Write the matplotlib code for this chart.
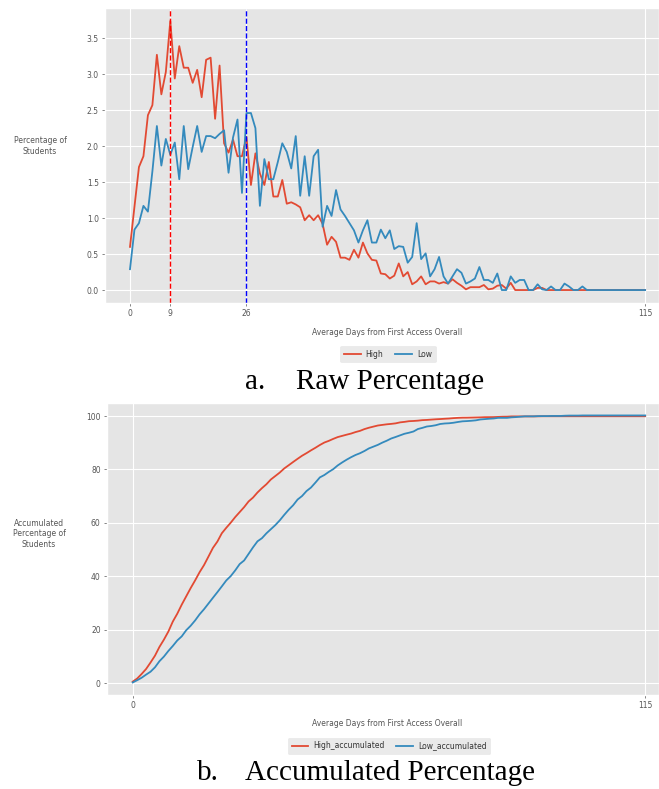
import numpy as np
import matplotlib
matplotlib.use("Agg")
import matplotlib.pyplot as plt

# ---- data ----
days = list(range(116))
high = [0.60, 1.16, 1.71, 1.86, 2.43, 2.57, 3.27, 2.72, 3.03, 3.74,
        2.94, 3.39, 3.09, 3.09, 2.88, 3.06, 2.68, 3.20, 3.23, 2.38,
        3.12, 2.04, 1.91, 2.09, 1.86, 1.86, 2.13, 1.46, 1.90, 1.62,
        1.46, 1.78, 1.30, 1.30, 1.53, 1.20, 1.22, 1.19, 1.15, 0.97,
        1.04, 0.97, 1.04, 0.92, 0.63, 0.74, 0.67, 0.45, 0.45, 0.42,
        0.56, 0.45, 0.66, 0.51, 0.42, 0.41, 0.23, 0.22, 0.16, 0.20,
        0.37, 0.19, 0.25, 0.08, 0.12, 0.19, 0.08, 0.12, 0.12, 0.09,
        0.11, 0.09, 0.15, 0.10, 0.06, 0.01, 0.04, 0.04, 0.04, 0.07,
        0.01, 0.02, 0.06, 0.07, 0.02, 0.10, 0.00, 0.00, 0.00, 0.00,
        0.00, 0.03, 0.03, 0.00, 0.00, 0.00, 0.00, 0.00, 0.00, 0.00,
        0.00, 0.00, 0.00, 0.00, 0.00, 0.00, 0.00, 0.00, 0.00, 0.00,
        0.00, 0.00, 0.00, 0.00, 0.00, 0.00]
low = [0.29, 0.84, 0.93, 1.17, 1.09, 1.65, 2.28, 1.73, 2.10, 1.88,
       2.05, 1.54, 2.28, 1.68, 1.99, 2.28, 1.92, 2.14, 2.14, 2.11,
       2.17, 2.22, 1.63, 2.12, 2.37, 1.35, 2.46, 2.46, 2.25, 1.17,
       1.82, 1.54, 1.54, 1.78, 2.04, 1.92, 1.69, 2.14, 1.31, 1.86,
       1.31, 1.86, 1.95, 0.88, 1.17, 1.03, 1.39, 1.12, 1.03, 0.93,
       0.83, 0.66, 0.83, 0.97, 0.66, 0.66, 0.84, 0.72, 0.83, 0.57,
       0.61, 0.60, 0.38, 0.46, 0.93, 0.43, 0.51, 0.19, 0.29, 0.46,
       0.19, 0.09, 0.19, 0.29, 0.24, 0.09, 0.12, 0.16, 0.32, 0.14,
       0.14, 0.10, 0.23, 0.00, 0.00, 0.19, 0.10, 0.14, 0.14, 0.00,
       0.00, 0.08, 0.01, 0.00, 0.05, 0.00, 0.00, 0.09, 0.05, 0.00,
       0.00, 0.05, 0.00, 0.00, 0.00, 0.00, 0.00, 0.00, 0.00, 0.00,
       0.00, 0.00, 0.00, 0.00, 0.00, 0.00]
high_peak_day = 9
low_peak_day = 26
xticks_a = [0, 9, 26, 115]
xticks_b = [0, 115]

high_acc = np.cumsum(high)
low_acc = np.cumsum(low)

plt.style.use("ggplot")
W, H = 659, 789
fig = plt.figure(figsize=(W / 100, H / 100), dpi=100)

FS = 5.5
GRAY = "#555555"

def fx(px):
    return px / W

def fy(py):
    return 1 - py / H

def style_axes(ax):
    ax.tick_params(axis="both", labelsize=FS, colors=GRAY, length=2.5, width=0.5, pad=2)

# ---- panel a ----
ax1 = fig.add_axes([fx(105), fy(303), fx(659) - fx(105), fy(8) - fy(303)])
ax1.plot(days, high, color="#E24A33", lw=1.3, label="High")
ax1.plot(days, low, color="#348ABD", lw=1.3, label="Low")
ax1.axvline(high_peak_day, color="red", ls="--", lw=1.0)
ax1.axvline(low_peak_day, color="blue", ls="--", lw=1.0)
ax1.set_xlim(-5.58, 118.1)
ax1.set_ylim(-0.18, 3.92)
ax1.set_xticks(xticks_a)
ax1.set_yticks(np.arange(0, 3.51, 0.5))
ax1.set_yticklabels([f"{v:.1f}" for v in np.arange(0, 3.51, 0.5)])
style_axes(ax1)
fig.text(fx(40), fy(146), "Percentage of\nStudents", ha="center", va="center",
         fontsize=FS, color=GRAY, linespacing=1.2)
fig.text(fx(387), fy(333), "Average Days from First Access Overall", ha="center",
         va="center", fontsize=FS, color=GRAY)
h1, l1 = ax1.get_legend_handles_labels()
leg1 = fig.legend(h1, l1, loc="center", bbox_to_anchor=(fx(388), fy(354)), ncol=2,
                  fontsize=FS, frameon=True, handlelength=2.2, columnspacing=1.6,
                  borderpad=0.5, handletextpad=0.6)
leg1.get_frame().set_facecolor("#E5E5E5")
leg1.get_frame().set_edgecolor("#E5E5E5")
for t in leg1.get_texts():
    t.set_color("#333333")

fig.text(fx(245), fy(382), "a.", ha="left", va="center", fontsize=21,
         family="Liberation Serif", color="black")
fig.text(fx(296), fy(382), "Raw Percentage", ha="left", va="center", fontsize=21,
         family="Liberation Serif", color="black")

# ---- panel b ----
ax2 = fig.add_axes([fx(107), fy(695), fx(659) - fx(107), fy(402.7) - fy(695)])
ax2.plot(days, high_acc, color="#E24A33", lw=1.3, label="High_accumulated")
ax2.plot(days, low_acc, color="#348ABD", lw=1.3, label="Low_accumulated")
ax2.set_xlim(-5.77, 118.1)
ax2.set_ylim(-4.4, 105.0)
ax2.set_xticks(xticks_b)
ax2.set_yticks([0, 20, 40, 60, 80, 100])
style_axes(ax2)
fig.text(fx(39), fy(534), "Accumulated\nPercentage of\nStudents", ha="center",
         va="center", fontsize=FS, color=GRAY, linespacing=1.2)
fig.text(fx(387), fy(724), "Average Days from First Access Overall", ha="center",
         va="center", fontsize=FS, color=GRAY)
h2, l2 = ax2.get_legend_handles_labels()
leg2 = fig.legend(h2, l2, loc="center", bbox_to_anchor=(fx(389), fy(746)), ncol=2,
                  fontsize=FS, frameon=True, handlelength=2.2, columnspacing=1.6,
                  borderpad=0.5, handletextpad=0.6)
leg2.get_frame().set_facecolor("#E5E5E5")
leg2.get_frame().set_edgecolor("#E5E5E5")
for t in leg2.get_texts():
    t.set_color("#333333")

fig.text(fx(197), fy(773), "b.", ha="left", va="center", fontsize=21,
         family="Liberation Serif", color="black")
fig.text(fx(245), fy(773), "Accumulated Percentage", ha="left", va="center",
         fontsize=21, family="Liberation Serif", color="black")

fig.savefig("out.png", dpi=100, facecolor="white")
